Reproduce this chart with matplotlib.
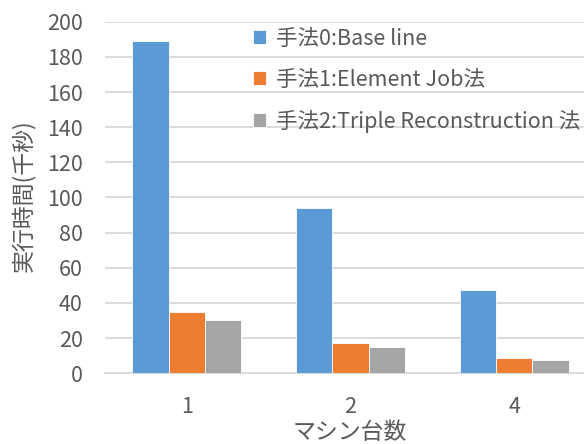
import numpy as np
import matplotlib
matplotlib.use("Agg")
import matplotlib.pyplot as plt

plt.rcParams['font.family'] = ['Noto Sans CJK JP', 'DejaVu Sans']

machines = ['1', '2', '4']
series_names = ['手法0:Base line', '手法1:Element Job法', '手法2:Triple Reconstruction 法']
baseline = [189, 94.3, 47.3]
element_job = [35.0, 17.3, 8.9]
triple_recon = [30.1, 15.1, 7.4]
colors = ['#5B9BD5', '#ED7D31', '#A5A5A5']

text_color = '#595959'
grid_color = '#D9D9D9'

W, H = 584, 444
fig = plt.figure(figsize=(W / 100, H / 100), dpi=100)
# plot area runs a little past the right edge, like the original export
ax = fig.add_axes([105 / W, 1 - 373.3 / H, 491 / W, 351.6 / H])

x = np.arange(len(machines))
width = 0.222
for i, (vals, name) in enumerate(zip([baseline, element_job, triple_recon], series_names)):
    ax.bar(x + (i - 1) * width, vals, width, color=colors[i], label=name,
           edgecolor='white', linewidth=0.6, zorder=3)

ax.set_xlim(-0.5, 2.5)
ax.set_ylim(0, 200)
ax.set_yticks(range(0, 201, 20))
ax.set_xticks(x)
ax.set_xticklabels(machines)
ax.yaxis.grid(True, color=grid_color, linewidth=1.3, zorder=0)
ax.set_axisbelow(True)
for s in ['top', 'right', 'left']:
    ax.spines[s].set_visible(False)
ax.spines['bottom'].set_color(grid_color)
ax.spines['bottom'].set_linewidth(1.3)
ax.tick_params(axis='both', length=0, labelsize=15.5, colors=text_color)
ax.tick_params(axis='y', pad=16)
ax.tick_params(axis='x', pad=16)

# axis titles
fig.text(23 / W, 1 - 196 / H, '実行時間(千秒)', rotation=90, ha='center', va='center',
         fontsize=16.5, color=text_color)
fig.text(350 / W, 1 - 432 / H, 'マシン台数', ha='center', va='center',
         fontsize=16.5, color=text_color)

leg = fig.legend(loc='upper left', bbox_to_anchor=(253 / W, 1 - 28 / H),
                 frameon=False, fontsize=15.5, handlelength=0.62, handleheight=0.62,
                 handletextpad=0.45, labelspacing=0.88, borderpad=0, borderaxespad=0)
for t in leg.get_texts():
    t.set_color(text_color)

fig.savefig('out.png', dpi=100)
